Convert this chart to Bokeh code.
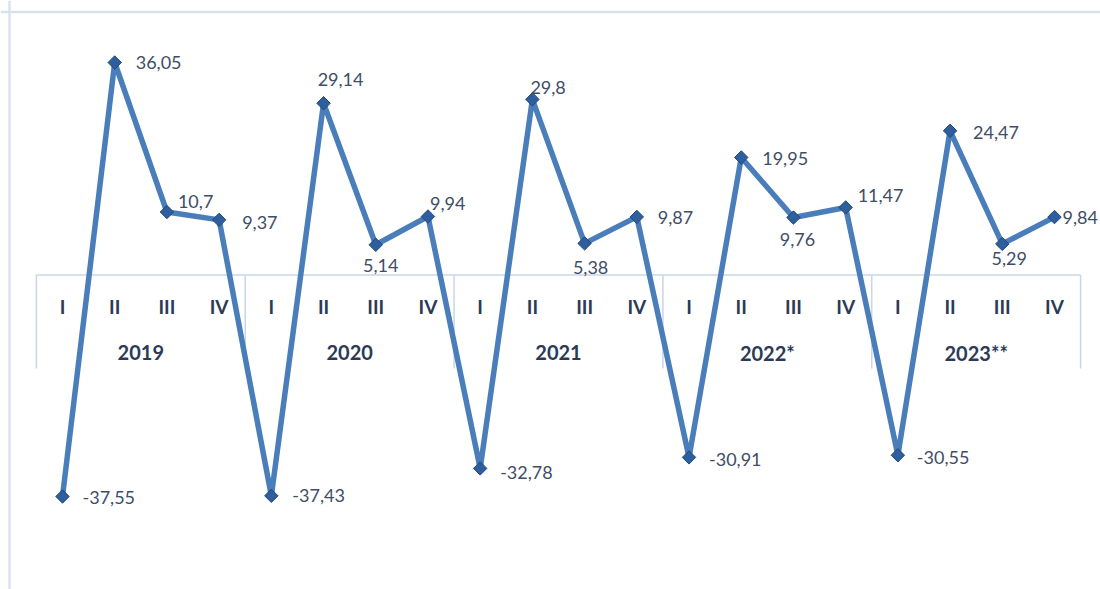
import math
from bokeh.plotting import figure
from bokeh.models import ColumnDataSource, Range1d, Span
from bokeh.core.properties import value
from bokeh.embed import file_html
from bokeh.resources import INLINE

# ---- data ----
years = ["2019", "2020", "2021", "2022*", "2023**"]
quarters = ["I", "II", "III", "IV"]
v2019 = [-37.55, 36.05, 10.7, 9.37]
v2020 = [-37.43, 29.14, 5.14, 9.94]
v2021 = [-32.78, 29.8, 5.38, 9.87]
v2022 = [-30.91, 19.95, 9.76, 11.47]
v2023 = [-30.55, 24.47, 5.29, 9.84]

values = v2019 + v2020 + v2021 + v2022 + v2023
idx = list(range(len(values)))
labels = [f"{v:g}".replace(".", ",") for v in values]

# ---- label placement (style) ----
lab_align = ["left", "left", "left", "left", "left", "center", "center", "left",
             "left", "left", "center", "left", "left", "left", "center", "left",
             "left", "left", "center", "left"]
lab_dx = [20, 21, 11, 23, 21, 17, 5, 2, 20, -2, 6, 21, 20, 21, 4, 12, 19, 23, 7, 8]
lab_dy = [1, 0, -11, 3, 0, -24, 21, -13, 4, -12, 24, 1, 2, 1, 22, -12, 2, 2, 15, 0]

# ---- geometry helpers (page pixel -> data) ----
W, H = 1100, 589
ORG = 0  # page offset of the figure
PX_X = 992 / 19.0
X0 = 62.0
PX_Y = 434 / 73.6
Y0 = 274.6

def xv(px):
    return (px - X0) / PX_X

def yv(py):
    return (Y0 - py) / PX_Y

p = figure(width=W, height=H, output_backend="svg", toolbar_location=None,
           x_range=Range1d(xv(ORG), xv(ORG + W)), y_range=Range1d(yv(ORG + H), yv(ORG)),
           min_border=0, x_axis_type=None, y_axis_type=None)
p.grid.visible = False
p.outline_line_color = None
p.background_fill_color = "white"
p.border_fill_color = "white"

# chart-area border (top and left only, rest clipped in reference)
p.add_layout(Span(location=yv(11.5), dimension="width", line_color="#D7E3F1", line_width=2.5))
p.add_layout(Span(location=xv(9), dimension="height", line_color="#D7E3F1", line_width=2.5))

# category axis box
n_groups = len(years)
left_edge = -0.5
right_edge = len(values) - 0.5
axis_line = "#C8D6EA"
p.segment(x0=[left_edge], y0=[0], x1=[right_edge], y1=[0], line_color=axis_line, line_width=1.5)
sep_x = [left_edge + 4 * k for k in range(n_groups + 1)]
p.segment(x0=sep_x, y0=[0] * len(sep_x), x1=sep_x, y1=[yv(368)] * len(sep_x),
          line_color=axis_line, line_width=1.5)

# quarter labels
q_src = ColumnDataSource(dict(x=idx, y=[yv(306)] * len(idx), t=quarters * n_groups))
p.text(x="x", y="y", text="t", source=q_src, text_align="center", text_baseline="middle",
       text_font=value("Lato"), text_font_style="bold", text_font_size="19px",
       text_color="#2C3A56")

# year labels
y_src = ColumnDataSource(dict(x=[4 * k + 1.5 for k in range(n_groups)],
                              y=[yv(352)] * n_groups, t=years))
p.text(x="x", y="y", text="t", source=y_src, text_align="center", text_baseline="middle",
       text_font=value("Lato"), text_font_style="bold", text_font_size="20px",
       text_color="#2C3A56")

# series
src = ColumnDataSource(dict(x=idx, y=values, lab=labels, align=lab_align,
                            dx=lab_dx, dy=lab_dy))
p.line(x="x", y="y", source=src, line_color="#4A7EBB", line_width=5.5, line_join="round")
p.scatter(x="x", y="y", source=src, marker="square", angle=math.pi / 4, size=9.5,
          fill_color="#2E5E9E", line_color="#1F497D", line_width=1)

p.text(x="x", y="y", text="lab", source=src, x_offset="dx", y_offset="dy",
       text_align="align", text_baseline="middle", text_font=value("Lato"),
       text_font_size="18px", text_color="#404D66")

open("out.html", "w").write(file_html(p, INLINE))
